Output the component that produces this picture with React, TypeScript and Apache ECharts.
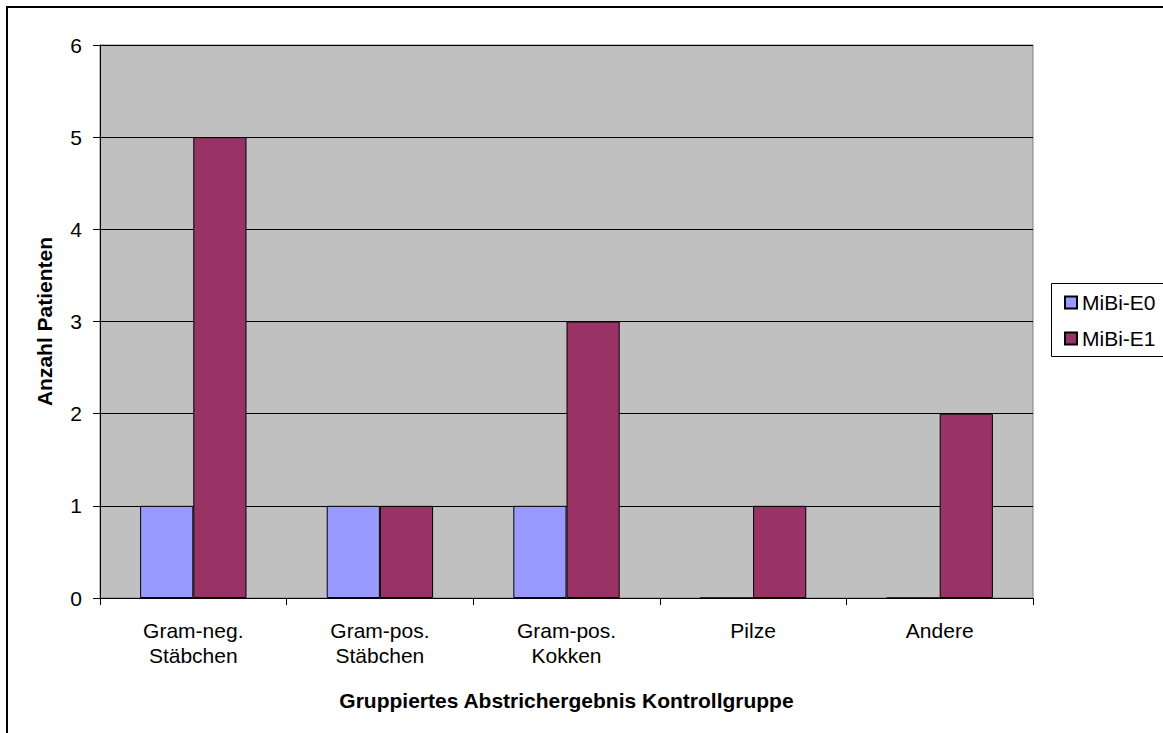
import React, { useEffect, useRef } from "react";
import * as echarts from "echarts";

const categories = [
  "Gram-neg.\nStäbchen",
  "Gram-pos.\nStäbchen",
  "Gram-pos.\nKokken",
  "Pilze",
  "Andere",
];
const seriesNames = ["MiBi-E0", "MiBi-E1"];
const valuesE0 = [1, 1, 1, 0, 0];
const valuesE1 = [5, 1, 3, 1, 2];
const yTicks = { min: 0, max: 6, interval: 1 };
const xAxisTitle = "Gruppiertes Abstrichergebnis Kontrollgruppe";
const yAxisTitle = "Anzahl Patienten";

const FONT = "'Liberation Sans', Arial, sans-serif";

export default function App() {
  const ref = useRef<HTMLDivElement>(null);

  useEffect(() => {
    if (!ref.current) return;
    const chart = echarts.init(ref.current, undefined, { renderer: "svg" });
    chart.setOption({
      animation: false,
      backgroundColor: "#ffffff",
      textStyle: { fontFamily: FONT },
      grid: {
        left: 100,
        top: 45,
        right: 130,
        bottom: 135,
        show: true,
        backgroundColor: "#C0C0C0",
        borderColor: "#808080",
        borderWidth: 1,
      },
      legend: {
        orient: "vertical",
        left: 1059,
        top: 287,
        itemWidth: 12,
        itemHeight: 12,
        itemGap: 15,
        icon: "rect",
        data: seriesNames,
        textStyle: { fontFamily: FONT, fontSize: 21, color: "#000", lineHeight: 21 },
      },
      xAxis: {
        type: "category",
        data: categories,
        name: xAxisTitle,
        nameLocation: "middle",
        nameGap: 92,
        nameTextStyle: { fontFamily: FONT, fontSize: 21, fontWeight: "bold", color: "#000" },
        axisLine: { show: true, lineStyle: { color: "#000", width: 1 } },
        axisTick: { show: true, length: 7, lineStyle: { color: "#000" } },
        axisLabel: {
          fontFamily: FONT,
          fontSize: 21,
          lineHeight: 25,
          color: "#000",
          margin: 20,
          interval: 0,
        },
      },
      yAxis: {
        type: "value",
        min: yTicks.min,
        max: yTicks.max,
        interval: yTicks.interval,
        name: yAxisTitle,
        nameLocation: "middle",
        nameGap: 45,
        nameRotate: 90,
        nameTextStyle: { fontFamily: FONT, fontSize: 21, fontWeight: "bold", color: "#000" },
        axisLine: { show: true, lineStyle: { color: "#000", width: 1 } },
        axisTick: { show: true, length: 7, lineStyle: { color: "#000" } },
        axisLabel: { fontFamily: FONT, fontSize: 21, color: "#000", margin: 18 },
        splitLine: { show: true, lineStyle: { color: "#000", width: 1 } },
      },
      graphic: [
        {
          type: "rect",
          left: 1051,
          top: 283,
          shape: { width: 200, height: 73 },
          style: { fill: "#ffffff", stroke: "#000", lineWidth: 1 },
          z: -1,
        },
        {
          type: "rect",
          shape: { x: 7, y: 7, width: 1400, height: 1000 },
          style: { fill: "none", stroke: "#000", lineWidth: 2 },
          silent: true,
          z: 100,
        },
      ],
      series: [
        {
          name: seriesNames[0],
          type: "bar",
          data: valuesE0,
          barGap: "0%",
          barCategoryGap: "43%",
          itemStyle: { color: "#9999FF", borderColor: "#000", borderWidth: 1 },
        },
        {
          name: seriesNames[1],
          type: "bar",
          data: valuesE1,
          barGap: "0%",
          barCategoryGap: "43%",
          itemStyle: { color: "#993366", borderColor: "#000", borderWidth: 1 },
        },
      ],
    });
    return () => chart.dispose();
  }, []);

  return (
    <div
      ref={ref}
      style={{ position: "fixed", left: 0, top: 0, width: 1163, height: 733 }}
    />
  );
}
